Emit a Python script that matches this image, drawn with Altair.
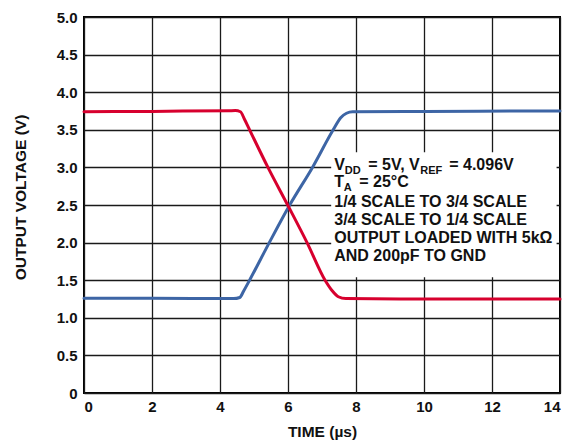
import altair as alt
import pandas as pd

# Series
time_rise = [0, 2, 4.4, 4.58, 4.7, 4.87, 5.45, 6.05, 6.72, 7.33, 7.55, 7.72, 7.9, 10, 14]
volt_rise = [1.26, 1.26, 1.255, 1.27, 1.36, 1.5, 2.0, 2.5, 3.0, 3.5, 3.66, 3.72, 3.74, 3.745, 3.75]

time_fall = [0, 2, 4.45, 4.6, 4.72, 4.87, 5.41, 5.99, 6.56, 7.09, 7.3, 7.48, 7.7, 10, 14]
volt_fall = [3.74, 3.745, 3.755, 3.74, 3.64, 3.5, 3.0, 2.5, 2.0, 1.5, 1.36, 1.28, 1.255, 1.25, 1.25]

x_ticks = [0, 2, 4, 6, 8, 10, 12, 14]
y_ticks = [0, 0.5, 1.0, 1.5, 2.0, 2.5, 3.0, 3.5, 4.0, 4.5, 5.0]

series_names = ["1/4 to 3/4 scale", "3/4 to 1/4 scale"]
series_colors = ["#3D65A5", "#D7002E"]

rows = []
for t, v in zip(time_rise, volt_rise):
    rows.append({"t": t, "v": v, "s": series_names[0]})
for t, v in zip(time_fall, volt_fall):
    rows.append({"t": t, "v": v, "s": series_names[1]})
df = pd.DataFrame(rows)

FONT = "Liberation Sans"

xscale = alt.Scale(domain=[0, 14], nice=False, zero=False)
yscale = alt.Scale(domain=[0, 5], nice=False)

xaxis = alt.Axis(values=x_ticks, title="TIME (µs)", grid=True,
                 titleY=43, titleBaseline="alphabetic", labelOverlap=False)
yaxis = alt.Axis(values=y_ticks, title="OUTPUT VOLTAGE (V)", grid=True,
                 labelOverlap=False,
                 labelExpr="datum.value == 0 ? '0' : format(datum.value, '.1f')",
                 titleX=-64, titleY=180, titleBaseline="middle", titleAngle=270)

lines = alt.Chart(df).mark_line(
    strokeWidth=3, interpolate="monotone", strokeCap="round", strokeJoin="round"
).encode(
    x=alt.X("t:Q", scale=xscale, axis=xaxis),
    y=alt.Y("v:Q", scale=yscale, axis=yaxis),
    color=alt.Color("s:N", scale=alt.Scale(domain=series_names, range=series_colors), legend=None),
    order=alt.Order("t:Q"),
)

# white background behind the annotation block
box = pd.DataFrame([{"x0": 7.27, "x1": 13.9, "y0": 1.54, "y1": 3.2}])
bg = alt.Chart(box).mark_rect(color="white").encode(
    x=alt.X("x0:Q", scale=xscale, axis=xaxis), x2="x1:Q",
    y=alt.Y("y0:Q", scale=yscale, axis=yaxis), y2="y1:Q"
)

tx = 7.36
pieces = [
    # text, y baseline (data), dx, dy, size
    ("V", 2.966, 0, 0, 16),
    ("DD", 2.966, 10.5, 4, 11),
    ("= 5V, V", 2.966, 34, 0, 16),
    ("REF", 2.966, 86, 4, 11),
    ("= 4.096V", 2.966, 115, 0, 16),
    ("T", 2.74, 0, 0, 16),
    ("A", 2.74, 9.5, 4, 11),
    ("= 25°C", 2.74, 25, 0, 16),
    ("1/4 SCALE TO 3/4 SCALE", 2.47, 0, 0, 16),
    ("3/4 SCALE TO 1/4 SCALE", 2.23, 0, 0, 16),
    ("OUTPUT LOADED WITH 5kΩ", 1.99, 0, 0, 16),
    ("AND 200pF TO GND", 1.75, 0, 0, 16),
]

text_layers = []
for txt, yy, dx, dy, size in pieces:
    text_layers.append(
        alt.Chart(pd.DataFrame([{"x": tx, "y": yy, "txt": txt}])).mark_text(
            align="left", baseline="alphabetic", dx=dx, dy=dy, fontSize=size,
            fontWeight="bold", font=FONT, color="#111"
        ).encode(
            x=alt.X("x:Q", scale=xscale, axis=xaxis),
            y=alt.Y("y:Q", scale=yscale, axis=yaxis),
            text="txt:N",
        )
    )

chart = alt.layer(bg, lines, *text_layers).properties(
    width=476, height=376,
    autosize=alt.AutoSizeParams(type="none"),
    padding={"left": 76, "top": 9, "right": 8, "bottom": 55},
    background="white",
).configure_view(
    stroke="#000", strokeWidth=2
).configure_axis(
    domain=False, ticks=False,
    gridColor="#1a1a1a", gridWidth=1.3, gridOpacity=1,
    labelFont=FONT, labelFontSize=15, labelFontWeight="bold", labelColor="#111",
    titleFont=FONT, titleFontSize=15.5, titleFontWeight="bold", titleColor="#111",
    labelPadding=7,
).configure_axisX(
    labelPadding=6
)

chart.save("out.html", embed_options={"renderer": "svg", "actions": False})
